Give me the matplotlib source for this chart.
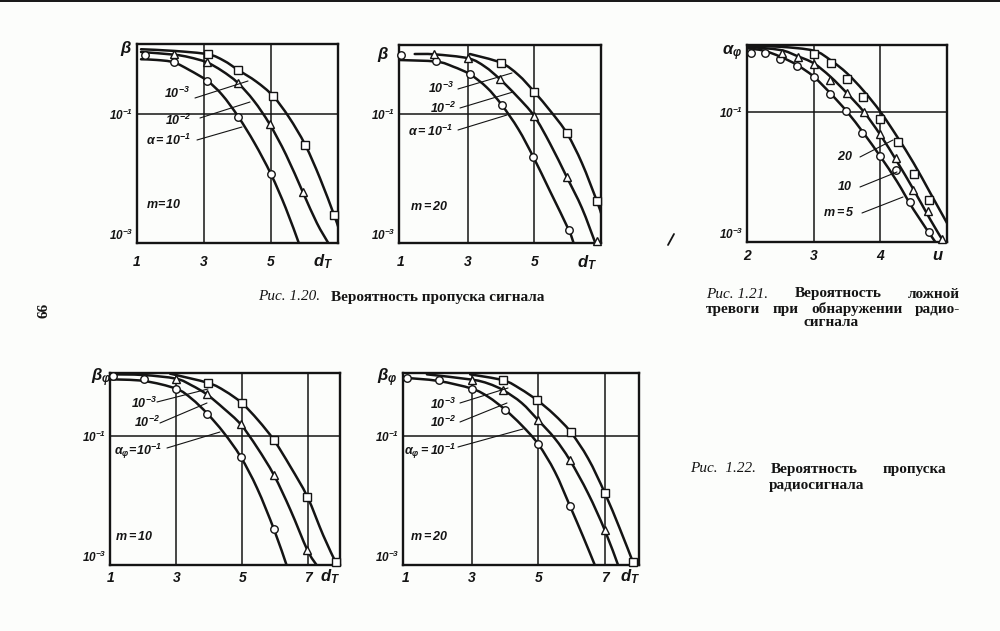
import numpy as np
import matplotlib
matplotlib.use('Agg')
import matplotlib.pyplot as plt
from matplotlib.transforms import Affine2D
from matplotlib.lines import Line2D
from matplotlib.path import Path
from matplotlib.patches import PathPatch
from matplotlib.ticker import NullLocator

plt.rcParams['font.family'] = ['Liberation Sans', 'DejaVu Sans']
plt.rcParams['mathtext.fontset'] = 'custom'
plt.rcParams['mathtext.rm'] = 'Liberation Sans:italic:bold'
plt.rcParams['mathtext.it'] = 'Liberation Sans:italic:bold'
plt.rcParams['mathtext.bf'] = 'Liberation Sans:italic:bold'
plt.rcParams['mathtext.sf'] = 'Liberation Sans:italic:bold'
plt.rcParams['mathtext.default'] = 'it'

# ------------------------------------------------------------
# Fig. 1.20, m = 10  (beta vs d_T)
# ------------------------------------------------------------
p1_a1_x = [1.12, 1.59, 2.09, 2.56, 3.10, 3.54, 4.02, 4.51, 5.00, 5.44, 5.83]
p1_a1_y = [0.713, 0.695, 0.640, 0.486, 0.329, 0.200, 0.092, 0.0355, 0.0117, 0.00349, 0.001]
p1_a2_x = [1.12, 2.10, 2.56, 3.08, 3.54, 4.00, 4.49, 4.96, 5.45, 5.95, 6.37, 6.71]
p1_a2_y = [0.925, 0.841, 0.766, 0.640, 0.470, 0.310, 0.161, 0.070, 0.0234, 0.00617, 0.00204, 0.001]
p1_a3_x = [1.12, 2.12, 3.12, 3.59, 4.02, 4.56, 5.06, 5.54, 6.02, 6.46, 6.88, 7.0]
p1_a3_y = [1.02, 0.96, 0.851, 0.679, 0.486, 0.321, 0.192, 0.0891, 0.0335, 0.0102, 0.00275, 0.00182]
p1_circ_x = [1.24, 2.09, 3.10, 4.02, 5.00]
p1_circ_y = [0.832, 0.640, 0.329, 0.092, 0.0117]
p1_tri_x = [2.10, 3.08, 4.00, 4.96, 5.95]
p1_tri_y = [0.861, 0.640, 0.310, 0.070, 0.00617]
p1_sq_x = [3.12, 4.02, 5.06, 6.02, 6.88]
p1_sq_y = [0.851, 0.486, 0.192, 0.0335, 0.00275]

# ------------------------------------------------------------
# Fig. 1.20, m = 20
# ------------------------------------------------------------
p2_a1_x = [0.95, 2.07, 2.57, 3.07, 3.57, 4.02, 4.52, 4.97, 5.47, 6.02, 6.17]
p2_a1_y = [0.695, 0.656, 0.548, 0.417, 0.262, 0.140, 0.0585, 0.0215, 0.00631, 0.00162, 0.001]
p2_a2_x = [1.42, 2.01, 3.02, 3.52, 3.97, 4.47, 4.99, 5.47, 5.97, 6.42, 6.82]
p2_a2_y = [0.861, 0.851, 0.738, 0.548, 0.349, 0.192, 0.0942, 0.0347, 0.0105, 0.00349, 0.001]
p2_a3_x = [3.07, 3.99, 4.52, 4.99, 5.49, 5.97, 6.42, 6.87, 6.99]
p2_a3_y = [0.861, 0.632, 0.407, 0.224, 0.110, 0.0507, 0.0174, 0.00443, 0.00292]
p2_circ_x = [1.02, 2.07, 3.07, 4.02, 4.97, 6.02]
p2_circ_y = [0.832, 0.671, 0.417, 0.140, 0.0215, 0.00162]
p2_tri_x = [2.01, 3.02, 3.97, 4.99, 5.97, 6.87]
p2_tri_y = [0.861, 0.738, 0.349, 0.0942, 0.0105, 0.00107]
p2_sq_x = [3.99, 4.99, 5.97, 6.87]
p2_sq_y = [0.632, 0.224, 0.0507, 0.00443]

# ------------------------------------------------------------
# Fig. 1.21  (alpha_phi vs u)
# ------------------------------------------------------------
p3_m5_x = [2.0, 2.25, 2.5, 2.75, 3.0, 3.25, 3.5, 3.75, 4.0, 4.25, 4.5, 4.825]
p3_m5_y = [0.966, 0.889, 0.718, 0.535, 0.354, 0.196, 0.102, 0.0475, 0.0208, 0.00857, 0.00314, 0.001]
p3_m10_x = [2.0, 2.5, 2.75, 3.0, 3.25, 3.5, 3.75, 4.0, 4.25, 4.5, 4.75, 4.95]
p3_m10_y = [1.02, 0.91, 0.736, 0.568, 0.354, 0.196, 0.102, 0.0448, 0.0174, 0.00638, 0.00221, 0.001]
p3_m20_x = [2.0, 2.5, 3.0, 3.25, 3.5, 3.75, 4.0, 4.25, 4.5, 4.75, 5.0]
p3_m20_y = [1.06, 1.02, 0.889, 0.638, 0.398, 0.213, 0.102, 0.0423, 0.0164, 0.00568, 0.00196]
p3_circ_x = [2.06, 2.265, 2.50, 2.75, 3.00, 3.24, 3.485, 3.73, 4.00, 4.24, 4.45, 4.725]
p3_circ_y = [0.828, 0.828, 0.653, 0.522, 0.354, 0.191, 0.106, 0.0481, 0.0215, 0.0130, 0.00412, 0.00143]
p3_tri_x = [2.525, 2.76, 3.01, 3.25, 3.50, 3.76, 4.00, 4.24, 4.49, 4.71, 4.925]
p3_tri_y = [0.809, 0.718, 0.547, 0.314, 0.196, 0.102, 0.0459, 0.0196, 0.00638, 0.00296, 0.00111]
p3_sq_x = [3.00, 3.26, 3.50, 3.74, 4.00, 4.26, 4.50, 4.725]
p3_sq_y = [0.789, 0.581, 0.326, 0.174, 0.078, 0.0345, 0.0112, 0.00438]

# ------------------------------------------------------------
# Fig. 1.22, m = 10  (beta_phi vs d_T)
# ------------------------------------------------------------
p4_a1_x = [0.99, 2.02, 2.99, 3.46, 3.94, 4.44, 4.95, 5.45, 5.96, 6.34]
p4_a1_y = [0.766, 0.721, 0.548, 0.384, 0.224, 0.113, 0.0479, 0.0155, 0.00357, 0.001]
p4_a2_x = [0.99, 2.0, 2.99, 3.46, 3.92, 4.44, 4.95, 5.45, 5.96, 6.46, 6.97, 7.25]
p4_a2_y = [0.914, 0.893, 0.783, 0.618, 0.448, 0.269, 0.153, 0.0667, 0.0248, 0.00713, 0.00171, 0.001]
p4_a3_x = [2.81, 3.97, 4.47, 4.98, 5.48, 5.96, 6.46, 6.97, 7.45, 7.83]
p4_a3_y = [0.938, 0.671, 0.505, 0.329, 0.177, 0.0867, 0.0335, 0.0115, 0.0029, 0.0011]
p4_circ_x = [1.09, 2.02, 2.99, 3.94, 4.95, 5.96]
p4_circ_y = [0.851, 0.783, 0.548, 0.224, 0.0479, 0.00357]
p4_tri_x = [2.99, 3.92, 4.95, 5.96, 6.97]
p4_tri_y = [0.783, 0.448, 0.153, 0.0248, 0.00171]
p4_sq_x = [3.97, 4.98, 5.96, 6.97, 7.83]
p4_sq_y = [0.671, 0.329, 0.0867, 0.0115, 0.0011]

# ------------------------------------------------------------
# Fig. 1.22, m = 20
# ------------------------------------------------------------
p5_a1_x = [0.93, 2.0, 3.0, 3.5, 4.0, 4.5, 5.0, 5.5, 5.95, 6.35, 6.7]
p5_a1_y = [0.813, 0.721, 0.548, 0.407, 0.259, 0.148, 0.0752, 0.028, 0.00832, 0.00275, 0.001]
p5_a2_x = [1.65, 3.0, 3.5, 3.95, 4.5, 5.0, 5.5, 5.95, 6.5, 7.0, 7.4]
p5_a2_y = [0.914, 0.757, 0.656, 0.516, 0.329, 0.177, 0.092, 0.0425, 0.0129, 0.00349, 0.001]
p5_a3_x = [2.95, 3.95, 4.45, 4.97, 5.47, 5.97, 6.5, 7.0, 7.45, 7.85]
p5_a3_y = [0.914, 0.738, 0.548, 0.361, 0.219, 0.117, 0.0451, 0.0132, 0.0037, 0.0011]
p5_circ_x = [1.05, 2.0, 3.0, 4.0, 5.0, 5.95]
p5_circ_y = [0.813, 0.738, 0.548, 0.259, 0.0752, 0.00832]
p5_tri_x = [3.0, 3.95, 5.0, 5.95, 7.0]
p5_tri_y = [0.757, 0.516, 0.177, 0.0425, 0.00349]
p5_sq_x = [3.95, 4.97, 5.97, 7.0, 7.85]
p5_sq_y = [0.738, 0.361, 0.117, 0.0132, 0.0011]

INK = '#141414'
PAPER = '#fcfdfb'
W, H = 1000, 631

fig = plt.figure(figsize=(W / 100, H / 100), dpi=100)
fig.patch.set_facecolor(PAPER)
# pixel coordinates, y downwards
T = Affine2D().scale(1.0 / W, -1.0 / H).translate(0, 1) + fig.transFigure


def ftext(x, y, s, **kw):
	kw.setdefault('ha', 'center')
	kw.setdefault('va', 'center')
	kw.setdefault('color', INK)
	return fig.text(x, y, s, transform=T, **kw)


def fline(x0, y0, x1, y1, lw=0.8):
	fig.add_artist(Line2D([x0, x1], [y0, y1], transform=T, color=INK, lw=lw,
						  solid_capstyle='round'))


def smooth_curve(ax, xs, ys):
	# french-curve look: Catmull-Rom through the read points (in x, log y),
	# drawn as cubic bezier segments
	p = np.column_stack([xs, np.log10(ys)])
	ext = np.vstack([p[0], p, p[-1]])
	verts = [p[0]]
	codes = [Path.MOVETO]
	for i in range(len(p) - 1):
		p0, p1, p2, p3 = ext[i], ext[i + 1], ext[i + 2], ext[i + 3]
		verts += [p1 + (p2 - p0) / 6.0, p2 - (p3 - p1) / 6.0, p2]
		codes += [Path.CURVE4] * 3
	verts = np.array(verts)
	verts[:, 1] = 10 ** verts[:, 1]
	ax.add_patch(PathPatch(Path(verts, codes), fill=False, ec=INK, lw=1.8,
						   capstyle='round', joinstyle='round', zorder=2))


def panel(box, xlim, ytop, vgrid, xticks, xlabels, xpad, curves, marks):
	l, t, r, b = box
	ax = fig.add_axes([l / W, 1 - b / H, (r - l) / W, (b - t) / H])
	ax.set_facecolor(PAPER)
	ax.set_yscale('log')
	ax.set_xlim(*xlim)
	ax.set_ylim(1e-3, ytop)
	for v in vgrid:
		ax.axvline(v, color=INK, lw=1.1, zorder=1)
	ax.axhline(0.1, color=INK, lw=1.1, zorder=1)
	for cx, cy in curves:
		smooth_curve(ax, cx, cy)
	for mx, my, m in marks:
		ax.plot(mx, my, ls='none', marker=m, ms=5.4 if m != '^' else 6.0,
				mfc='white', mec=INK, mew=1.0, zorder=3, clip_on=False)
	for sp in ax.spines.values():
		sp.set_linewidth(1.7)
		sp.set_color(INK)
	ax.yaxis.set_minor_locator(NullLocator())
	ax.set_yticks([1e-1, 1e-3], labels=['$10^{-1}$', '$10^{-3}$'])
	ax.set_xticks(xticks, labels=xlabels)
	ax.tick_params(length=0, colors=INK)
	ax.tick_params(axis='y', pad=2.5, labelsize=8.5)
	ax.tick_params(axis='x', pad=xpad, labelsize=10)
	for lab in ax.get_xticklabels():
		lab.set_fontstyle('italic')
		lab.set_fontweight('bold')
	ax.get_yticklabels()[1].set_va('bottom')
	return ax


# ---- panels ----
panel((137, 44, 338, 243), (1.0, 7.0), 10 ** 0.09, [3, 5], [1, 3, 5], ['1', '3', '5'], 9,
	  [(p1_a1_x, p1_a1_y), (p1_a2_x, p1_a2_y), (p1_a3_x, p1_a3_y)],
	  [(p1_circ_x, p1_circ_y, 'o'), (p1_tri_x, p1_tri_y, '^'), (p1_sq_x, p1_sq_y, 's')])
panel((399, 45, 601, 243), (0.95, 6.99), 10 ** 0.075, [3, 5], [1, 3, 5], ['1', '3', '5'], 9,
	  [(p2_a1_x, p2_a1_y), (p2_a2_x, p2_a2_y), (p2_a3_x, p2_a3_y)],
	  [(p2_circ_x, p2_circ_y, 'o'), (p2_tri_x, p2_tri_y, '^'), (p2_sq_x, p2_sq_y, 's')])
panel((747, 45, 947, 242), (2.0, 5.0), 10 ** 0.036, [3, 4], [2, 3, 4], ['2', '3', '4'], 5,
	  [(p3_m5_x, p3_m5_y), (p3_m10_x, p3_m10_y), (p3_m20_x, p3_m20_y)],
	  [(p3_circ_x, p3_circ_y, 'o'), (p3_tri_x, p3_tri_y, '^'), (p3_sq_x, p3_sq_y, 's')])
panel((110, 373, 340, 565), (0.99, 7.96), 10 ** -0.018, [3, 5, 7], [1, 3, 5, 7],
	  ['1', '3', '5', '7'], 4.5,
	  [(p4_a1_x, p4_a1_y), (p4_a2_x, p4_a2_y), (p4_a3_x, p4_a3_y)],
	  [(p4_circ_x, p4_circ_y, 'o'), (p4_tri_x, p4_tri_y, '^'), (p4_sq_x, p4_sq_y, 's')])
panel((403, 373, 639, 565), (0.93, 8.03), 10 ** -0.018, [3, 5, 7], [1, 3, 5, 7],
	  ['1', '3', '5', '7'], 4.5,
	  [(p5_a1_x, p5_a1_y), (p5_a2_x, p5_a2_y), (p5_a3_x, p5_a3_y)],
	  [(p5_circ_x, p5_circ_y, 'o'), (p5_tri_x, p5_tri_y, '^'), (p5_sq_x, p5_sq_y, 's')])

# ---- axis names ----
lab = dict(fontsize=12)
ftext(126, 49, r'$\beta$', **lab)
ftext(383, 55, r'$\beta$', **lab)
ftext(732, 53, r'$\alpha_\varphi$', **lab)
ftext(101, 378, r'$\beta_\varphi$', **lab)
ftext(387, 378, r'$\beta_\varphi$', **lab)
xl = dict(fontsize=12)
ftext(323, 262, r'$d_T$', **xl)
ftext(587, 263, r'$d_T$', **xl)
ftext(938, 256, r'$u$', **xl)
ftext(330, 577, r'$d_T$', **xl)
ftext(630, 577, r'$d_T$', **xl)

# ---- curve annotations ----
an = dict(fontsize=9)
ftext(177, 93, r'$10^{-3}$', **an); fline(195, 98, 248, 81)
ftext(178, 120, r'$10^{-2}$', **an); fline(200, 118, 250, 102)
ftext(169, 140, r'$\alpha = 10^{-1}$', **an); fline(197, 140, 242, 127)
ftext(163, 204, r'$m\!=\!10$', **an)

ftext(441, 88, r'$10^{-3}$', **an); fline(458, 89, 512, 73)
ftext(443, 108, r'$10^{-2}$', **an); fline(460, 108, 513, 92)
ftext(431, 131, r'$\alpha = 10^{-1}$', **an); fline(458, 130, 507, 115)
ftext(429, 207, r'$m = 20$', **an)

ftext(845, 157, r'$20$', **an); fline(860, 157, 893, 140)
ftext(845, 186, r'$10$', **an); fline(860, 187, 897, 172)
ftext(839, 213, r'$m = 5$', **an); fline(862, 213, 903, 197)

ftext(144, 403, r'$10^{-3}$', **an); fline(157, 402, 208, 389)
ftext(147, 422, r'$10^{-2}$', **an); fline(160, 423, 207, 403)
ftext(138, 451, r'$\alpha_\varphi\!=\!10^{-1}$', **an); fline(167, 448, 220, 432)
ftext(134, 537, r'$m = 10$', **an)

ftext(443, 404, r'$10^{-3}$', **an); fline(460, 403, 508, 388)
ftext(443, 422, r'$10^{-2}$', **an); fline(460, 422, 507, 403)
ftext(430, 451, r'$\alpha_\varphi = 10^{-1}$', **an); fline(458, 447, 523, 429)
ftext(429, 537, r'$m = 20$', **an)

# ---- captions ----
cap = dict(fontsize=11, family='Liberation Serif', fontweight='bold', va='center')
capi = dict(fontsize=11, family='Liberation Serif', style='italic', va='center')
ftext(258, 297, 'Рис. 1.20.', ha='left', **capi)
ftext(331, 297, 'Вероятность пропуска сигнала', ha='left', **cap)

ftext(706, 294, 'Рис. 1.21.', ha='left', **capi)
ftext(795, 294, 'Вероятность', ha='left', **cap)
ftext(960, 294, 'ложной', ha='right', **cap)
ftext(706, 309, 'тревоги', ha='left', **cap)
ftext(773, 309, 'при', ha='left', **cap)
ftext(811, 309, 'обнаружении', ha='left', **cap)
ftext(960, 309, 'радио-', ha='right', **cap)
ftext(831, 323, 'сигнала', ha='center', **cap)

ftext(690, 469, 'Рис.  1.22.', ha='left', **capi)
ftext(771, 469, 'Вероятность', ha='left', **cap)
ftext(946, 469, 'пропуска', ha='right', **cap)
ftext(816, 486, 'радиосигнала', ha='center', **cap)

# page number and scan marks
ftext(44, 310, '66', rotation=90, fontsize=11, fontweight='bold', family='Liberation Serif')
fline(0, 0.8, 1000, 0.8, lw=1.4)
fline(668, 245, 674, 234, lw=1.3)

fig.savefig('out.png', dpi=100, facecolor=PAPER)
